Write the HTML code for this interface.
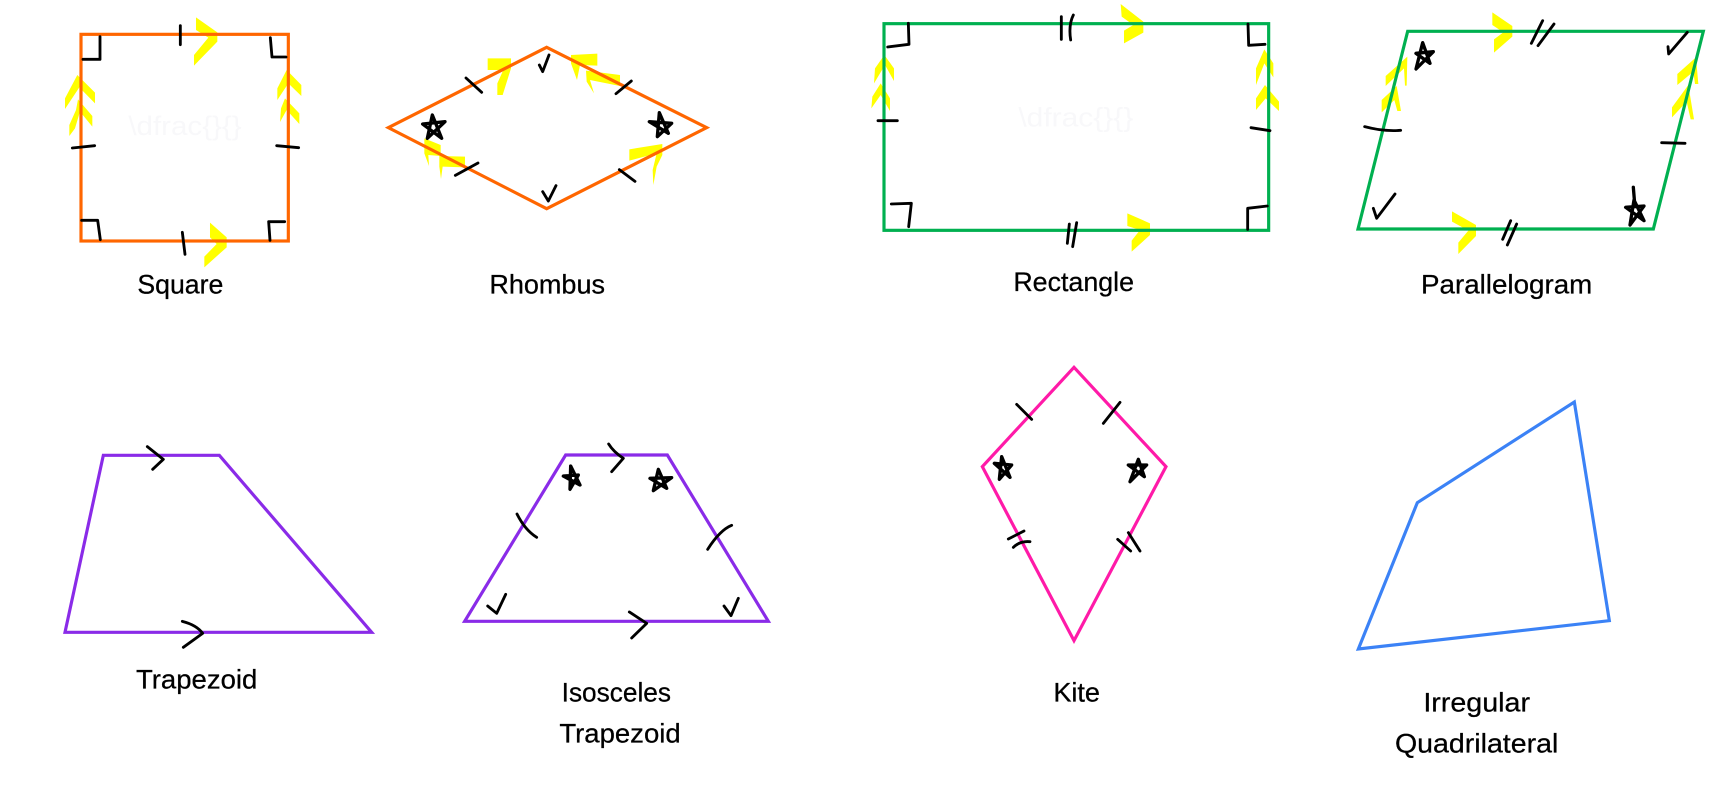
<!DOCTYPE html>
<html lang="en">
<head>
<meta charset="utf-8">
<title>Quadrilaterals</title>
<style>
html,body{margin:0;padding:0;background:#fff;width:1711px;height:787px;overflow:hidden}
svg{display:block}
text{font-family:"Liberation Sans",sans-serif;font-size:80px;fill:#000;stroke:#000;stroke-width:.8}
text.faint{fill:#f8f8fa;stroke:none}
.y{fill:#ffff00;stroke:none}
.shape{fill:none;stroke-width:9.5;stroke-linejoin:miter}
.m{fill:none;stroke:#000;stroke-width:8.5;stroke-linecap:round;stroke-linejoin:round}
.s{stroke-width:10}
</style>
</head>
<body>
<svg width="1711" height="787" viewBox="0 0 1711 787" xmlns="http://www.w3.org/2000/svg">
<rect width="1711" height="787" fill="#fff"/>

<g transform="scale(.33333)">
  <text class="faint" x="385" y="405" textLength="340" lengthAdjust="spacingAndGlyphs">\dfrac{}{}</text>
  <g>
    <path class="y" d="M588,52L652,97L652,125L582,197L582,165L625,113L588,90Z"/>
    <path class="y" d="M630,668L680,712L680,742L613,802L613,770L650,732L630,712Z"/>
    <path class="y" d="M232,225L285,278L285,310L238,262L195,327L195,295Z"/>
    <path class="y" d="M234,298L277,348L277,380L240,335L225,385L208,408L208,375L228,330Z"/>
    <path class="y" d="M860,210L904,255L904,288L865,250L832,300L832,265Z"/>
    <path class="y" d="M855,295L898,340L898,372L860,330L840,366L843,325Z"/>
  </g>
  <rect class="shape" x="243" y="103" width="622" height="620" stroke="#ff6600"/>
  <g class="m">
    <path d="M541,77V134M217,444L284,437M830,437L896,443M547,697L555,763"/>
    <path d="M300,110V178H249M811,113L816,171H858M245,661H293L301,719M810,721L806,665H854"/>
  </g>
  <text x="412" y="880" textLength="258" lengthAdjust="spacingAndGlyphs">Square</text>
</g>

<g transform="translate(370 20) scale(.33333)">
  <g>
    <path class="y" d="M353,115L423,115L423,145L398,225L382,225L382,190L400,150L353,150Z"/>
    <path class="y" d="M603,105L682,101L682,137L630,135L621,180L603,130Z"/>
    <path class="y" d="M648,152L750,165L750,198L660,180L672,220L650,185Z"/>
    <path class="y" d="M163,355L212,375L212,408L175,405L177,438L163,400Z"/>
    <path class="y" d="M208,408L285,410L285,442L218,440L213,477L208,440Z"/>
    <path class="y" d="M778,388L877,372L877,405L860,440L850,495L848,450L860,400L778,422Z"/>
  </g>
  <polygon class="shape" points="530,82 1010,323 530,566 55,323" stroke="#ff6600"/>
  <g class="m">
    <path d="M288,174L335,217M738,221L784,183M256,466L324,429M748,449L795,484"/>
    <path d="M508,135L518,155L537,105M518,515L535,543L558,497"/>
    <path class="s" d="M172,355L187,285L215,355L158,312L225,305Z"/>
    <path class="s" d="M862,350L868,278L895,340L838,305L905,310Z"/>
  </g>
  <text x="358" y="820" textLength="347" lengthAdjust="spacingAndGlyphs">Rhombus</text>
</g>

<g transform="translate(860 0) scale(.33333)">
  <text class="faint" x="475" y="380" textLength="345" lengthAdjust="spacingAndGlyphs">\dfrac{}{}</text>
  <g>
    <path class="y" d="M782,12L850,65L850,98L792,130L792,92L820,75L785,50Z"/>
    <path class="y" d="M802,640L870,670L870,705L815,755L815,722L840,690L802,678Z"/>
    <path class="y" d="M73,165L102,205L102,243L75,195L42,250L45,205Z"/>
    <path class="y" d="M62,250L90,295L90,333L62,285L34,325L37,290Z"/>
    <path class="y" d="M1213,148L1240,190L1240,232L1213,190L1188,255L1188,205Z"/>
    <path class="y" d="M1215,255L1257,305L1257,333L1217,295L1188,330L1188,295Z"/>
  </g>
  <rect class="shape" x="72" y="71" width="1154" height="620" stroke="#00b050"/>
  <g class="m">
    <path d="M604,50V118M640,45Q625,75 632,120M628,672L622,730M650,668L638,740"/>
    <path d="M54,362H112M1173,383L1230,392"/>
    <path d="M145,70L147,133L83,141M1164,72L1166,136L1215,133M94,612L154,610L146,680M1163,688V625L1222,618"/>
  </g>
  <text x="460" y="873" textLength="362" lengthAdjust="spacingAndGlyphs">Rectangle</text>
</g>

<g transform="translate(1340 0) scale(.33333)">
  <g>
    <path class="y" d="M457,37L517,78L517,110L462,158L462,118L490,97L457,75Z"/>
    <path class="y" d="M336,634L408,675L408,708L355,762L355,728L385,692L336,665Z"/>
    <path class="y" d="M202,170L200,257L195,257L192,205L137,258L137,228Z"/>
    <path class="y" d="M170,258L183,333L172,333L163,300L125,337L125,300Z"/>
    <path class="y" d="M1068,172L1075,252L1065,252L1060,215L1012,255L1012,222Z"/>
    <path class="y" d="M1045,255L1062,358L1052,358L1040,305L996,352L996,322Z"/>
  </g>
  <polygon class="shape" points="203,94 1090,94 940,687 54,687" stroke="#00b050"/>
  <g class="m">
    <path d="M574,130L608,62M594,137L642,72M488,718L512,662M502,735L530,672"/>
    <path d="M74,380Q130,395 182,391M965,428L1035,430"/>
    <path d="M984,140L986,162L1042,97M100,625L110,655L165,582"/>
    <path class="s" d="M228,207L248,128L270,190L228,160L280,155Z"/>
    <path class="s" d="M870,675L882,600L912,662L857,622L912,618ZM880,562L884,610"/>
  </g>
  <text x="243" y="880" textLength="514" lengthAdjust="spacingAndGlyphs">Parallelogram</text>
</g>

<g transform="translate(40 430) scale(.33333)">
  <polygon class="shape" points="190,76 538,76 995,607 75,607" stroke="#8a2be8"/>
  <g class="m">
    <path d="M322,50L370,88L338,118M427,574Q470,585 488,610L430,652"/>
  </g>
  <text x="288" y="775" textLength="364" lengthAdjust="spacingAndGlyphs">Trapezoid</text>
</g>

<g transform="translate(450 430) scale(.33333)">
  <polygon class="shape" points="347,75 652,75 955,574 44,574" stroke="#8a2be8"/>
  <g class="m">
    <path d="M476,42Q490,65 520,85L485,125M538,546L590,580L545,624"/>
    <path d="M201,252Q225,300 260,322M773,358Q810,300 845,286"/>
    <path class="s" d="M360,178L362,108L390,165L340,138L385,135Z"/>
    <path class="s" d="M610,182L625,118L650,175L600,145L665,143Z"/>
    <path d="M113,528L140,550L167,493M822,528L843,557L865,505"/>
  </g>
  <text x="335" y="815" textLength="328" lengthAdjust="spacingAndGlyphs">Isosceles</text>
  <text x="328" y="937" textLength="364" lengthAdjust="spacingAndGlyphs">Trapezoid</text>
</g>

<g transform="translate(960 350) scale(.33333)">
  <polygon class="shape" points="342,52 618,350 342,872 67,350" stroke="#ff1aa8"/>
  <g class="m">
    <path d="M170,163L215,208M430,220L480,157M145,567L192,543M160,592Q180,572 210,575M473,568L512,603M505,548L540,603"/>
    <path class="s" d="M118,388L125,320L150,382L103,340L155,345Z"/>
    <path class="s" d="M510,395L535,328L553,380L505,345L560,345Z"/>
  </g>
  <text x="280" y="1055" textLength="140" lengthAdjust="spacingAndGlyphs">Kite</text>
</g>

<g transform="translate(1340 390) scale(.33333)">
  <polygon class="shape" points="703,36 808,692 55,777 232,338" stroke="#3b82f6"/>
  <text x="250" y="965" textLength="320" lengthAdjust="spacingAndGlyphs">Irregular</text>
  <text x="165" y="1088" textLength="490" lengthAdjust="spacingAndGlyphs">Quadrilateral</text>
</g>
</svg>
</body>
</html>
